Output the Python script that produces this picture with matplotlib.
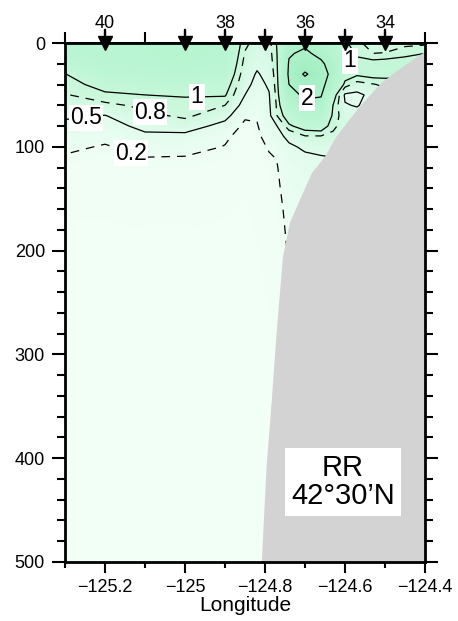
import numpy as np
import matplotlib
matplotlib.use("Agg")
import matplotlib.pyplot as plt
from matplotlib.colors import LinearSegmentedColormap
from matplotlib.ticker import MultipleLocator

plt.rcParams['font.family'] = ['Liberation Sans', 'DejaVu Sans']
plt.rcParams['lines.dashed_pattern'] = [7.0, 5.5]

# ---- data ----
lons = [-125.3, -125.2, -125.1, -125.0, -124.9, -124.85, -124.82, -124.79, -124.77,
        -124.74, -124.7, -124.66, -124.63, -124.6, -124.57, -124.53, -124.5, -124.45, -124.4]
depths = [0, 10, 20, 30, 40, 50, 60, 70, 80, 90, 100, 110, 120, 140, 160, 200, 300, 500]

# one profile (values at `depths`) per longitude in `lons`
profiles = [
    [1.45, 1.40, 1.25, 0.99, 0.88, 0.78, 0.66, 0.53, 0.45, 0.36, 0.25, 0.18, 0.14, 0.10, 0.08, 0.06, 0.04, 0.03],
    [1.50, 1.48, 1.42, 1.30, 1.12, 0.95, 0.74, 0.49, 0.38, 0.26, 0.18, 0.14, 0.12, 0.10, 0.08, 0.06, 0.04, 0.03],
    [1.50, 1.50, 1.45, 1.35, 1.20, 1.00, 0.86, 0.72, 0.58, 0.44, 0.28, 0.20, 0.15, 0.11, 0.09, 0.06, 0.04, 0.03],
    [1.55, 1.55, 1.50, 1.40, 1.22, 1.02, 0.93, 0.86, 0.64, 0.42, 0.30, 0.19, 0.15, 0.11, 0.09, 0.06, 0.04, 0.03],
    [1.50, 1.48, 1.40, 1.30, 1.15, 1.03, 0.80, 0.60, 0.40, 0.24, 0.19, 0.16, 0.13, 0.10, 0.08, 0.06, 0.04, 0.03],
    [0.86, 0.78, 0.72, 0.66, 0.60, 0.50, 0.38, 0.24, 0.14, 0.11, 0.10, 0.10, 0.09, 0.08, 0.07, 0.06, 0.04, 0.03],
    [0.70, 0.64, 0.56, 0.47, 0.40, 0.34, 0.28, 0.23, 0.18, 0.15, 0.13, 0.12, 0.11, 0.10, 0.09, 0.07, 0.05, 0.03],
    [0.72, 0.70, 0.66, 0.60, 0.54, 0.48, 0.45, 0.42, 0.38, 0.30, 0.22, 0.18, 0.16, 0.14, 0.12, 0.10, 0.06, 0.04],
    [1.02, 1.00, 0.98, 0.95, 0.92, 0.88, 0.84, 0.80, 0.50, 0.40, 0.28, 0.21, 0.19, 0.17, 0.15, 0.10, 0.06, 0.04],
    [1.70, 1.95, 2.05, 2.10, 2.00, 1.80, 1.50, 1.20, 0.95, 0.58, 0.45, 0.38, 0.33, 0.28, 0.25, 0.22, 0.20, 0.20],
    [1.90, 2.10, 2.40, 3.15, 2.40, 2.10, 1.85, 1.50, 1.15, 0.78, 0.55, 0.45, 0.40, 0.35, 0.30, 0.28, 0.25, 0.25],
    [1.60, 1.85, 2.10, 2.30, 2.20, 2.05, 1.80, 1.50, 1.20, 0.78, 0.60, 0.48, 0.40, 0.35, 0.30, 0.28, 0.25, 0.25],
    [1.40, 1.60, 1.75, 1.80, 1.60, 1.20, 1.00, 0.95, 0.85, 0.75, 0.60, 0.50, 0.45, 0.40, 0.35, 0.30, 0.28, 0.25],
    [1.05, 1.20, 1.30, 1.15, 0.92, 0.45, 0.52, 0.65, 0.70, 0.70, 0.65, 0.60, 0.55, 0.50, 0.45, 0.40, 0.35, 0.30],
    [0.85, 0.95, 1.10, 1.05, 0.70, 0.42, 0.48, 0.60, 0.65, 0.65, 0.60, 0.55, 0.50, 0.45, 0.40, 0.35, 0.30, 0.30],
    [0.70, 0.80, 1.12, 1.12, 0.78, 0.60, 0.62, 0.65, 0.65, 0.62, 0.60, 0.55, 0.50, 0.45, 0.40, 0.35, 0.30, 0.30],
    [0.68, 0.81, 1.15, 1.10, 0.85, 0.70, 0.70, 0.68, 0.65, 0.62, 0.60, 0.55, 0.50, 0.45, 0.40, 0.35, 0.30, 0.30],
    [0.72, 0.95, 1.10, 1.05, 0.90, 0.80, 0.75, 0.70, 0.65, 0.62, 0.60, 0.55, 0.50, 0.45, 0.40, 0.35, 0.30, 0.30],
    [0.75, 1.00, 1.10, 1.05, 0.90, 0.80, 0.75, 0.70, 0.65, 0.62, 0.60, 0.55, 0.50, 0.45, 0.40, 0.35, 0.30, 0.30],
]

contour_levels = [0.2, 0.5, 0.8, 1, 2, 3]
contour_styles = ['--', '-', '--', '-', '-', '-']

label_texts = ['0.2', '0.5', '0.8', '1', '2', '1']
label_lons = [-125.135, -125.2475, -125.0875, -124.97, -124.695, -124.5875]
label_depths = [106, 72, 66.5, 52, 53, 17]

station_lons = [-125.2, -125.0, -124.9, -124.8, -124.7, -124.6, -124.5]
station_labels = ['40', '', '38', '', '36', '', '34']

bathy_lons = [-124.4, -124.41, -124.47, -124.51, -124.5625, -124.621, -124.65, -124.683,
              -124.7125, -124.7375, -124.755, -124.771, -124.783, -124.796, -124.808]
bathy_depths = [9, 11, 27, 39, 61, 90, 109.5, 125.5, 151, 173, 206, 279, 344, 408, 500]

xticks = [-125.2, -125.0, -124.8, -124.6, -124.4]
xticklabels = ['\u2212125.2', '\u2212125', '\u2212124.8', '\u2212124.6', '\u2212124.4']
yticks = [0, 100, 200, 300, 400, 500]
yticklabels = ['0', '100', '200', '300', '400', '500']

section_title = 'RR\n42\u00b030\u2019N'

# ---- drawing ----
fig = plt.figure(figsize=(4.58, 6.21), dpi=100)
ax = fig.add_axes([65 / 458, 1 - 562 / 621, 360 / 458, 519 / 621])

Z = np.array(profiles).T
vmax = 3.3
cmap = LinearSegmentedColormap.from_list('greens_pale', [
    (0.0, '#f3fff8'), (0.2 / vmax, '#edfef4'), (0.5 / vmax, '#e0fbeb'),
    (0.8 / vmax, '#d0f9e0'), (1.0 / vmax, '#c5f7d9'), (1.5 / vmax, '#b8f5d1'),
    (2.0 / vmax, '#acf1c9'), (1.0, '#9cebbd')])
ax.contourf(lons, depths, Z, levels=np.linspace(0, vmax, 45), cmap=cmap,
            vmin=0, vmax=vmax, zorder=1)
ax.contour(lons, depths, Z, levels=contour_levels, colors='black',
           linewidths=0.9, linestyles=contour_styles, zorder=2)

ax.fill(bathy_lons + [-124.4], bathy_depths + [500], color='#d3d3d3', lw=0, zorder=3)

for t, x, y in zip(label_texts, label_lons, label_depths):
    ax.text(x, y, t, ha='center', va='center', fontsize=16.5, zorder=4,
            bbox=dict(boxstyle='square,pad=0.06', fc='white', ec='none'))

ax.text(-124.605, 423, section_title, ha='center', va='center', fontsize=21,
        linespacing=1.0, zorder=5,
        bbox=dict(boxstyle='square,pad=0.2', fc='white', ec='none'))

ax.set_xlim(-125.3, -124.4)
ax.set_ylim(500, 0)

for s in ax.spines.values():
    s.set_linewidth(2.0)
    s.set_zorder(6)

ax.set_xticks(xticks)
ax.set_xticklabels(xticklabels)
ax.xaxis.set_minor_locator(MultipleLocator(0.1))
ax.set_yticks(yticks)
ax.set_yticklabels(yticklabels)
ax.yaxis.set_minor_locator(MultipleLocator(20))
ax.tick_params(axis='y', which='major', direction='out', length=9.4, width=1.5,
               left=True, right=True, labelsize=13, pad=5)
ax.tick_params(axis='y', which='minor', direction='out', length=5.8, width=1.5,
               left=True, right=True)
ax.tick_params(axis='x', which='major', direction='out', length=8, width=1.5,
               bottom=True, top=False, labelsize=13, pad=4)
ax.tick_params(axis='x', which='minor', direction='out', length=4.3, width=1.5,
               bottom=True, top=False)

top = ax.secondary_xaxis('top')
top.set_xticks(xticks)
top.xaxis.set_minor_locator(MultipleLocator(0.1))
top.tick_params(which='both', direction='out', length=8, width=1.5, labeltop=False)
top.spines['top'].set_linewidth(2.0)

ax.set_xlabel('Longitude', fontsize=15, labelpad=0)

for lon, lab in zip(station_lons, station_labels):
    ax.annotate('', xy=(lon, 0), xycoords='data', xytext=(0, 9.5),
                textcoords='offset points', annotation_clip=False,
                arrowprops=dict(arrowstyle='-', lw=1.7, color='black',
                                shrinkA=0, shrinkB=0), zorder=7)
    ax.plot([lon], [0], marker='v', ms=10, color='black', clip_on=False, zorder=7)
    if lab:
        ax.annotate(lab, xy=(lon, 0), xycoords='data', xytext=(0, 11),
                    textcoords='offset points', ha='center', va='baseline',
                    fontsize=13, annotation_clip=False)

fig.savefig('out.png', dpi=100)
